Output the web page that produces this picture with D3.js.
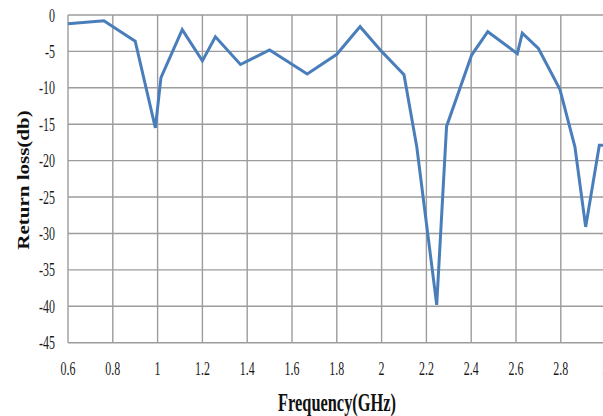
<!DOCTYPE html>
<html>
<head>
<meta charset="utf-8">
<script src="https://cdn.jsdelivr.net/npm/d3@7"></script>
<style>
  html, body { margin: 0; padding: 0; background: #fff; overflow: hidden; }
  text { font-family: "Liberation Serif", "DejaVu Serif", serif; }
</style>
</head>
<body>
<div id="chart"></div>
<script>
// values
const freq = [0.6, 0.76, 0.9, 0.99, 1.015, 1.11, 1.2, 1.258, 1.37, 1.5, 1.668, 1.8, 1.904, 2.0, 2.1, 2.157, 2.246, 2.29, 2.402, 2.474, 2.606, 2.628, 2.7, 2.796, 2.863, 2.911, 2.972, 3.0];
const returnLoss = [-1.2, -0.8, -3.6, -15.5, -8.6, -2.0, -6.3, -3.0, -6.8, -4.8, -8.1, -5.4, -1.6, -5.0, -8.2, -18.1, -39.8, -15.3, -5.5, -2.3, -5.3, -2.5, -4.6, -10.2, -18.1, -29.1, -17.9, -17.9];
const xTicks = [0.6, 0.8, 1, 1.2, 1.4, 1.6, 1.8, 2, 2.2, 2.4, 2.6, 2.8, 3];
const yTicks = [0, -5, -10, -15, -20, -25, -30, -35, -40, -45];

const width = 603, height = 416;
const plotLeft = 68, plotTop = 15, plotBottom = 342.7;

const svg = d3.select("#chart").append("svg")
    .attr("width", width)
    .attr("height", height);

const x = d3.scaleLinear().domain([0.6, 3.0]).range([plotLeft, plotLeft + 224 * 2.4]);
const y = d3.scaleLinear().domain([0, -45]).range([plotTop, plotBottom]);

// grid
svg.append("g").selectAll("line")
    .data(xTicks)
    .enter().append("line")
    .attr("x1", d => x(d)).attr("x2", d => x(d))
    .attr("y1", plotTop).attr("y2", plotBottom)
    .attr("stroke", "#9c9c9c").attr("stroke-width", 1.4);

svg.append("g").selectAll("line")
    .data(yTicks)
    .enter().append("line")
    .attr("x1", plotLeft).attr("x2", x(3.0))
    .attr("y1", d => y(d)).attr("y2", d => y(d))
    .attr("stroke", "#9c9c9c").attr("stroke-width", 1.4);

// tick labels (the picture is squeezed sideways, so text is too)
svg.append("g").selectAll("text")
    .data(yTicks)
    .enter().append("text")
    .attr("transform", d => `translate(55,${y(d) + 6.5}) scale(0.63,1)`)
    .attr("text-anchor", "end")
    .attr("font-size", 19)
    .attr("fill", "#1a1a1a")
    .text(d => d);

svg.append("g").selectAll("text")
    .data(xTicks)
    .enter().append("text")
    .attr("transform", d => `translate(${x(d)},375) scale(0.63,1)`)
    .attr("text-anchor", "middle")
    .attr("font-size", 19)
    .attr("fill", "#1a1a1a")
    .text(d => d);

// data line
const line = d3.line()
    .x((d, i) => x(freq[i]))
    .y(d => y(d));

svg.append("path")
    .datum(returnLoss)
    .attr("d", line)
    .attr("fill", "none")
    .attr("stroke", "#4a7ebb")
    .attr("stroke-width", 3)
    .attr("stroke-linejoin", "miter");

// axis titles
svg.append("text")
    .attr("transform", "translate(337,411) scale(0.63,1)")
    .attr("text-anchor", "middle")
    .attr("font-size", 26)
    .attr("font-weight", "bold")
    .attr("fill", "#111")
    .text("Frequency(GHz)");

svg.append("text")
    .attr("transform", "translate(29,180) rotate(-90) scale(1,0.8)")
    .attr("text-anchor", "middle")
    .attr("font-size", 21)
    .attr("font-weight", "bold")
    .attr("fill", "#111")
    .text("Return loss(db)");
</script>
</body>
</html>
